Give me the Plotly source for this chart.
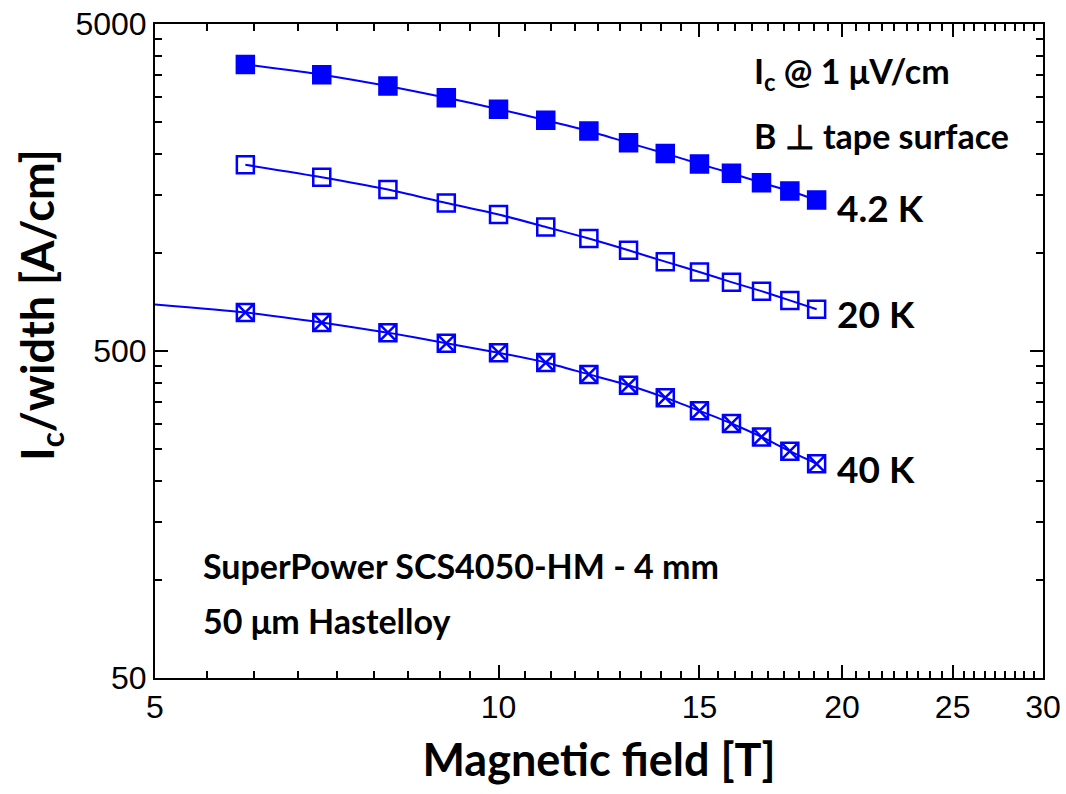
import numpy as np
import plotly.graph_objects as go

# ---- data ----
field_T = [6, 7, 8, 9, 10, 11, 12, 13, 14, 15, 16, 17, 18, 19]
ic_4p2K = [3760, 3500, 3230, 2975, 2745, 2540, 2355, 2165, 2010, 1866, 1748, 1636, 1542, 1448]
ic_20K = [1855, 1700, 1558, 1418, 1308, 1198, 1104, 1016, 938, 872, 812, 762, 714, 671]
ic_40K = [656, 611, 569, 528, 494, 461, 424, 393, 360, 328, 300, 273, 247, 226]
# fit line for 40 K extends to the left axis
fit40_x = [5] + field_T
fit40_y = [694] + ic_40K

x_major = [5, 10, 15, 20, 25, 30]
y_major = [50, 500, 5000]
x_minor = [a + 5 * k / 9 for a in [5, 10, 15, 20, 25] for k in range(1, 9)]
y_minor = [50 * k for k in range(2, 10)] + [500 * k for k in range(2, 10)]

BLUE = "#0000FF"
TITLE_FONT = "Lato"
TICK_FONT = "Liberation Sans, Arial"

fig = go.Figure()

def add_series(xs, ys, symbol, name, line_x=None, line_y=None):
    lx = line_x if line_x is not None else xs
    ly = line_y if line_y is not None else ys
    fig.add_trace(go.Scatter(x=lx, y=ly, mode="lines",
                             line=dict(color=BLUE, width=2, shape="spline", smoothing=0.6),
                             showlegend=False, hoverinfo="skip"))
    fig.add_trace(go.Scatter(x=xs, y=ys, mode="markers", name=name,
                             marker=dict(symbol=symbol, size=17, color=BLUE,
                                         line=dict(color=BLUE, width=2.5)),
                             showlegend=False))

add_series(field_T, ic_4p2K, "square", "4.2 K")
add_series(field_T, ic_20K, "square-open", "20 K")
add_series(field_T, ic_40K, "square-x-open", "40 K", fit40_x, fit40_y)

axis_common = dict(
    type="log", showline=True, linewidth=2, linecolor="black", mirror="ticks",
    ticks="inside", ticklen=13, tickwidth=2, tickcolor="black", showgrid=False,
    zeroline=False, tickmode="array", ticklabeloverflow="allow", automargin=False,
    tickfont=dict(family=TICK_FONT, size=32, color="black"),
)

fig.update_xaxes(**axis_common, range=[np.log10(5), np.log10(30)], tickvals=x_major,
                 ticktext=[str(v) for v in x_major],
                 minor=dict(tickmode="array", tickvals=x_minor, ticks="inside",
                            ticklen=7, tickwidth=2, tickcolor="black", showgrid=False),
                 title=dict(text="Magnetic field [T]", standoff=20,
                            font=dict(family=TITLE_FONT, size=45, color="black", weight="bold")))
fig.update_yaxes(**axis_common, range=[np.log10(50), np.log10(5000)], tickvals=y_major,
                 ticktext=[str(v) for v in y_major],
                 minor=dict(tickmode="array", tickvals=y_minor, ticks="inside",
                            ticklen=7, tickwidth=2, tickcolor="black", showgrid=False))

# y-axis title (placed as rotated text, offset upward like the reference)
fig.add_annotation(text="I<sub>c</sub>/width [A/cm]", xref="paper", yref="paper",
                   x=-0.129, y=0.57, xanchor="center", yanchor="middle", textangle=-90,
                   showarrow=False,
                   font=dict(family=TITLE_FONT, size=45, color="black", weight="bold"))

def note(text, x, y, size=34):
    fig.add_annotation(text=text, xref="paper", yref="paper", x=x, y=y,
                       xanchor="left", yanchor="middle", showarrow=False,
                       font=dict(family=TITLE_FONT, size=size, color="black", weight="bold"))

note("I<sub>c</sub> @ 1 μV/cm", 0.672, 0.925)
note("B ⊥ tape surface", 0.672, 0.830)
note("4.2 K", 0.766, 0.719, 37)
note("20 K", 0.766, 0.558, 37)
note("40 K", 0.766, 0.321, 37)
note("SuperPower SCS4050-HM - 4 mm", 0.052, 0.172)
note("50 μm Hastelloy", 0.052, 0.088)

fig.update_layout(
    width=1066, height=794,
    margin=dict(l=155, r=23, t=24, b=116),
    plot_bgcolor="white", paper_bgcolor="white",
)

fig.write_html("out.html", config={"displayModeBar": False},
               post_script="document.body.style.margin='0';document.body.style.overflow='hidden';")
